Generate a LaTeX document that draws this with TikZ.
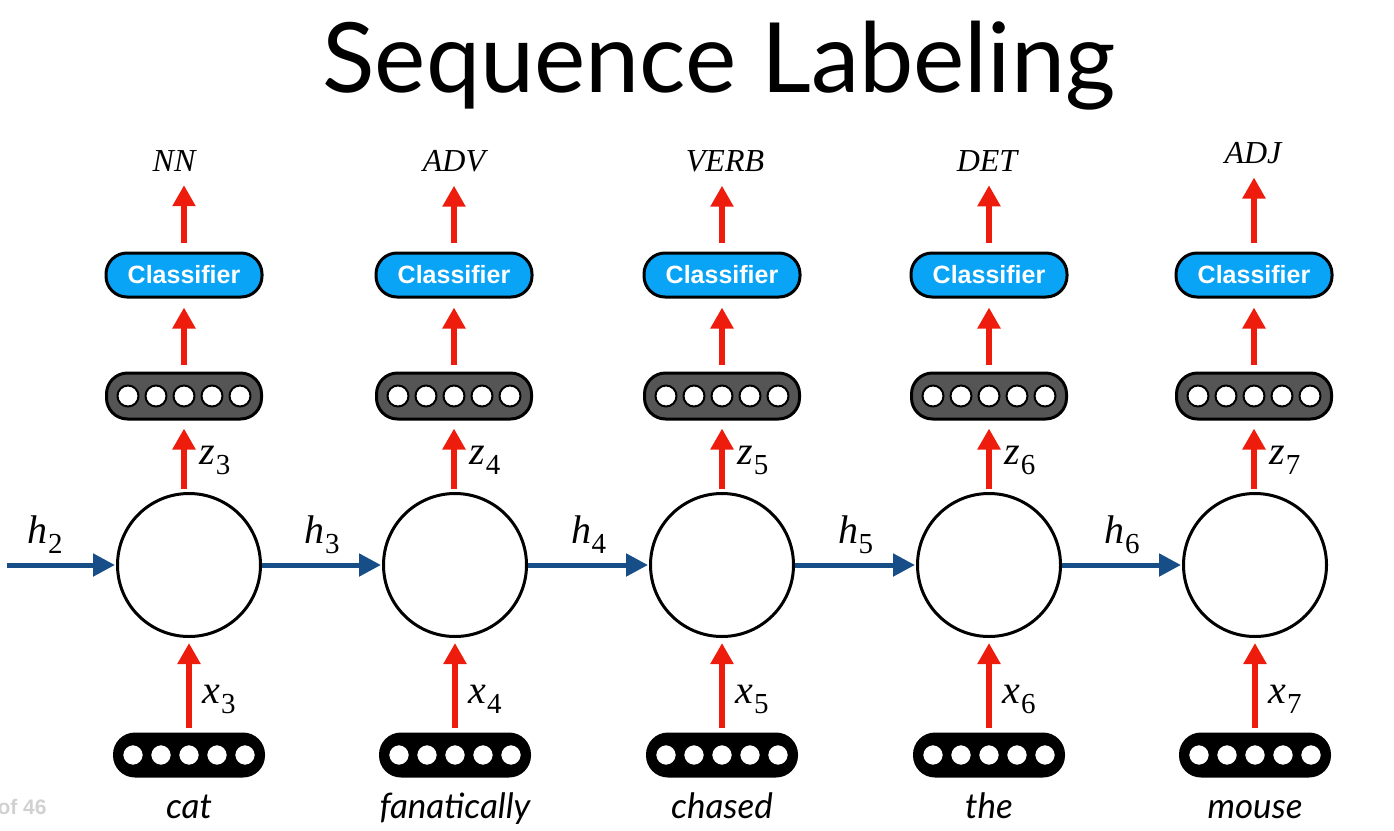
\documentclass[tikz,border=0pt]{standalone}
\usepackage{fontspec}
\setmainfont{Liberation Serif}
\newfontfamily\titlefont{Lato}
\newfontfamily\clsfont{Liberation Sans}
\usetikzlibrary{arrows.meta,positioning}
\definecolor{redar}{RGB}{238,28,12}
\definecolor{bluear}{RGB}{24,78,135}
\definecolor{clsblue}{RGB}{10,164,246}
\definecolor{vecgray}{RGB}{85,85,85}
\newcommand{\vlab}[2]{\textit{#1}\kern0.5pt\raisebox{-10pt}{\fontsize{29}{32}\selectfont #2}}

\begin{document}
\begin{tikzpicture}[x=1pt,y=-1pt,
 xarrow/.style={line width=5.5pt,draw=redar,-{Triangle[width=22pt,length=21pt]}},
 harrow/.style={line width=5pt,draw=bluear,-{Triangle[width=22pt,length=22pt]}},
 cell/.style={circle,draw,line width=3pt,minimum size=143pt,inner sep=0pt},
 onehot/.style={rectangle,rounded corners=22pt,fill=black,minimum width=152pt,minimum height=45pt,inner sep=0pt},
 hidden/.style={rectangle,rounded corners=21pt,draw,line width=3pt,fill=vecgray,minimum width=155pt,minimum height=46pt,inner sep=0pt},
 cls/.style={rectangle,rounded corners=21pt,draw,line width=3pt,fill=clsblue,minimum width=156pt,minimum height=44pt,inner sep=0pt,text=white,font=\clsfont\bfseries\fontsize{25}{30}\selectfont},
 tag/.style={anchor=base,inner sep=0pt,font=\itshape\fontsize{32}{38}\selectfont},
 word/.style={anchor=base,inner sep=0pt,font=\titlefont\itshape\fontsize{35}{42}\selectfont},
 lab/.style={font=\fontsize{40}{46}\selectfont,inner sep=0pt}]
 \useasboundingbox (0,0) rectangle (1394,830); %画像の大きさ
 \node[anchor=base,font=\titlefont\fontsize{97}{112}\selectfont] (title) at (719,92) {Sequence Labeling}; %タイトル
 \node[anchor=base west,text=black!18,font=\clsfont\bfseries\fontsize{21}{25}\selectfont] (page) at (-6,814) {of 46}; %ページ番号
 \coordinate (h0) at (7,565); %左端の入力
 \foreach \i/\x/\tx/\lx/\t/\ty/\w in {3/189/184/174/NN/171/cat,4/455/454/454/ADV/171/fanatically,5/722/722/725/VERB/171/chased,6/989/989/987/DET/171/the,7/1255/1254/1253/ADJ/163/mouse}{
  \node[cell] (c\i) at (\x,565) {}; %RNNセル
  \node[onehot] (x\i) at (\x,755) {}; %入力ベクトル
  \node[hidden] (g\i) at (\tx,396) {}; %出力ベクトル
  \node[cls] (k\i) at (\tx,275) {Classifier}; %分類器
  \node[tag] (t\i) at (\lx,\ty) {\t}; %品詞
  \node[word] (w\i) at (\x,818) {\w}; %単語
  \foreach \k in {-2,...,2}{
   \draw[fill=white,line width=1.5pt] (\x+\k*28,755) circle (10.5pt); %入力の丸
   \draw[fill=white,line width=2pt] (\tx+\k*28,396) circle (10.5pt); %出力の丸
  }
  \draw[xarrow,shorten <=4pt,shorten >=5pt] (x\i) -- node[lab,anchor=base west,xshift=11pt,yshift=-18pt] {\vlab{x}{\i}} (c\i); %x_i
  \draw[xarrow,shorten <=3pt,shorten >=8pt] (g\i |- c\i.north) -- node[lab,anchor=base west,xshift=13pt,yshift=-8pt] {\vlab{z}{\i}} (g\i); %z_i
  \draw[xarrow,shorten <=7pt,shorten >=9pt] (g\i) -- (k\i); %分類器へ
  \draw[xarrow,shorten <=9pt,shorten >=14pt] (k\i) -- (k\i |- t\i.south); %品詞へ
 }
 \draw[harrow,shorten >=1pt] (h0) -- node[lab,anchor=base,pos=0.35,yshift=22pt] {\vlab{h}{2}} (c3); %h_2
 \foreach \i/\j in {3/4,4/5,5/6,6/7}{
  \draw[harrow,shorten >=1pt] (c\i) -- node[lab,anchor=base,yshift=22pt] {\vlab{h}{\i}} (c\j); %h_i
 }
\end{tikzpicture}
\end{document}
